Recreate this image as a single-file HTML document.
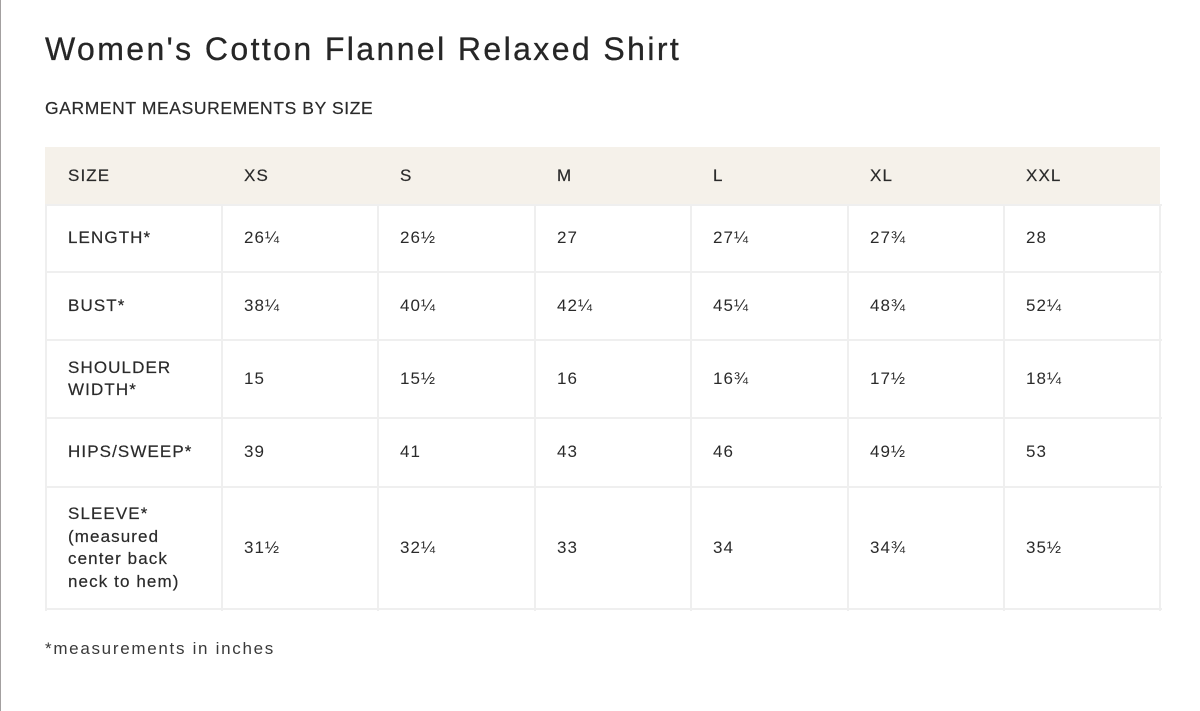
<!DOCTYPE html>
<html><head><meta charset="utf-8">
<style>
html,body{margin:0;padding:0;background:#fff;}
body{width:1200px;height:711px;position:relative;overflow:hidden;font-family:"Liberation Sans",sans-serif;color:#2a2a2a;}
.edge{position:absolute;left:0;top:0;width:1px;height:711px;background:#a3a0a0;}
.title{position:absolute;left:45px;top:29px;font-size:32px;letter-spacing:2.4px;color:#262626;white-space:nowrap;line-height:40px;-webkit-text-stroke:0.3px #262626;}
.sub{position:absolute;left:45px;top:97px;font-size:17.5px;letter-spacing:0.6px;color:#2a2a2a;white-space:nowrap;line-height:22px;-webkit-text-stroke:0.2px #2a2a2a;}
.hdr{position:absolute;left:45px;top:147px;width:1115px;height:58px;background:#f5f1ea;}
.h{position:absolute;height:2px;background:#efefef;left:45px;width:1117px;}
.v{position:absolute;width:2px;background:#efefef;top:205px;height:406px;}
.c{position:absolute;display:flex;align-items:center;padding-left:22px;box-sizing:border-box;font-size:17px;letter-spacing:1px;line-height:22.5px;color:#2a2a2a;}
.lab{letter-spacing:1.1px;-webkit-text-stroke:0.2px #2a2a2a;}
.foot{position:absolute;left:45px;top:638px;font-size:17px;letter-spacing:1.7px;color:#3a3a3a;white-space:nowrap;line-height:22px;}
</style></head><body>
<div class="edge"></div>
<div class="title">Women's Cotton Flannel Relaxed Shirt</div>
<div class="sub">GARMENT MEASUREMENTS BY SIZE</div>
<div class="hdr"></div>

<div class="h" style="top:204px"></div>
<div class="h" style="top:271px"></div>
<div class="h" style="top:339px"></div>
<div class="h" style="top:417px"></div>
<div class="h" style="top:486px"></div>
<div class="h" style="top:608px"></div>

<div class="v" style="left:45px"></div>
<div class="v" style="left:221px"></div>
<div class="v" style="left:377px"></div>
<div class="v" style="left:534px"></div>
<div class="v" style="left:690px"></div>
<div class="v" style="left:847px"></div>
<div class="v" style="left:1003px"></div>
<div class="v" style="left:1159px"></div>

<!-- header row -->
<div class="c lab" style="left:46px;top:147px;width:176px;height:58px">SIZE</div>
<div class="c lab" style="left:222px;top:147px;width:156px;height:58px">XS</div>
<div class="c lab" style="left:378px;top:147px;width:157px;height:58px">S</div>
<div class="c lab" style="left:535px;top:147px;width:156px;height:58px">M</div>
<div class="c lab" style="left:691px;top:147px;width:157px;height:58px">L</div>
<div class="c lab" style="left:848px;top:147px;width:156px;height:58px">XL</div>
<div class="c lab" style="left:1004px;top:147px;width:156px;height:58px">XXL</div>

<!-- length -->
<div class="c lab" style="left:46px;top:205px;width:176px;height:67px">LENGTH*</div>
<div class="c" style="left:222px;top:205px;width:156px;height:67px">26¼</div>
<div class="c" style="left:378px;top:205px;width:157px;height:67px">26½</div>
<div class="c" style="left:535px;top:205px;width:156px;height:67px">27</div>
<div class="c" style="left:691px;top:205px;width:157px;height:67px">27¼</div>
<div class="c" style="left:848px;top:205px;width:156px;height:67px">27¾</div>
<div class="c" style="left:1004px;top:205px;width:156px;height:67px">28</div>

<!-- bust -->
<div class="c lab" style="left:46px;top:272px;width:176px;height:68px">BUST*</div>
<div class="c" style="left:222px;top:272px;width:156px;height:68px">38¼</div>
<div class="c" style="left:378px;top:272px;width:157px;height:68px">40¼</div>
<div class="c" style="left:535px;top:272px;width:156px;height:68px">42¼</div>
<div class="c" style="left:691px;top:272px;width:157px;height:68px">45¼</div>
<div class="c" style="left:848px;top:272px;width:156px;height:68px">48¾</div>
<div class="c" style="left:1004px;top:272px;width:156px;height:68px">52¼</div>

<!-- shoulder -->
<div class="c lab" style="left:46px;top:340px;width:176px;height:78px">SHOULDER<br>WIDTH*</div>
<div class="c" style="left:222px;top:340px;width:156px;height:78px">15</div>
<div class="c" style="left:378px;top:340px;width:157px;height:78px">15½</div>
<div class="c" style="left:535px;top:340px;width:156px;height:78px">16</div>
<div class="c" style="left:691px;top:340px;width:157px;height:78px">16¾</div>
<div class="c" style="left:848px;top:340px;width:156px;height:78px">17½</div>
<div class="c" style="left:1004px;top:340px;width:156px;height:78px">18¼</div>

<!-- hips -->
<div class="c lab" style="left:46px;top:418px;width:176px;height:69px">HIPS/SWEEP*</div>
<div class="c" style="left:222px;top:418px;width:156px;height:69px">39</div>
<div class="c" style="left:378px;top:418px;width:157px;height:69px">41</div>
<div class="c" style="left:535px;top:418px;width:156px;height:69px">43</div>
<div class="c" style="left:691px;top:418px;width:157px;height:69px">46</div>
<div class="c" style="left:848px;top:418px;width:156px;height:69px">49½</div>
<div class="c" style="left:1004px;top:418px;width:156px;height:69px">53</div>

<!-- sleeve -->
<div class="c lab" style="left:46px;top:487px;width:176px;height:122px">SLEEVE*<br>(measured<br>center back<br>neck to hem)</div>
<div class="c" style="left:222px;top:487px;width:156px;height:122px">31½</div>
<div class="c" style="left:378px;top:487px;width:157px;height:122px">32¼</div>
<div class="c" style="left:535px;top:487px;width:156px;height:122px">33</div>
<div class="c" style="left:691px;top:487px;width:157px;height:122px">34</div>
<div class="c" style="left:848px;top:487px;width:156px;height:122px">34¾</div>
<div class="c" style="left:1004px;top:487px;width:156px;height:122px">35½</div>

<div class="foot">*measurements in inches</div>
</body></html>
